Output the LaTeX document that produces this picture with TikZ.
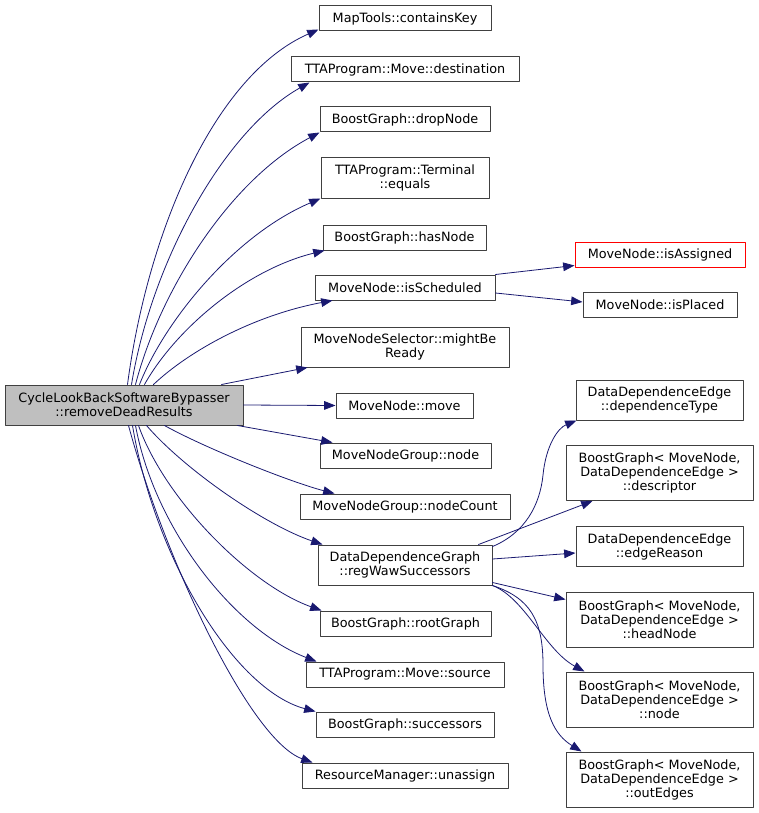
\documentclass[tikz,border=0pt]{standalone}
\usepackage{fontspec}
\setmainfont{DejaVu Sans}
\usetikzlibrary{arrows.meta,calc}
\definecolor{edge}{HTML}{191970}
\definecolor{rootfill}{HTML}{BFBFBF}
\begin{document}
\begin{tikzpicture}[line cap=round,line join=round,>={Triangle[length=8.5pt,width=6.5pt]},x=.75pt,y=.75pt,
	fn/.style={draw=black!75,line width=.75pt,fill=white,inner sep=0pt,minimum height=18.75pt,align=center,font=\fontsize{9.6}{10.5}\selectfont},
	two/.style={minimum height=30pt},
	three/.style={minimum height=41.25pt},
	call/.style={->,draw=edge,line width=.6pt}]
		\useasboundingbox (0,0) rectangle (759,-813);
		% caller
		\node[fn,two,fill=rootfill,minimum width=178.5pt] (root) at (124,-405) {CycleLookBackSoftwareBypasser\\::removeDeadResults};
		% first level
		\node[fn,minimum width=129pt] (ckey) at (405,-18.5) {MapTools::containsKey};
		\node[fn,minimum width=171pt] (dest) at (405,-69.5) {TTAProgram::Move::destination};
		\node[fn,minimum width=127.5pt] (drop) at (405,-119.5) {BoostGraph::dropNode};
		\node[fn,two,minimum width=126pt] (equals) at (405,-178) {TTAProgram::Terminal\\::equals};
		\node[fn,minimum width=122.25pt] (has) at (404.5,-237.5) {BoostGraph::hasNode};
		\node[fn,minimum width=135pt] (sched) at (405,-287.5) {MoveNode::isScheduled};
		\node[fn,two,minimum width=156pt] (ready) at (405,-347) {MoveNodeSelector::mightBe\\Ready};
		\node[fn,minimum width=102.75pt] (move) at (404.5,-405.5) {MoveNode::move};
		\node[fn,minimum width=128.25pt] (grpnode) at (405.5,-455.5) {MoveNodeGroup::node};
		\node[fn,minimum width=157.5pt] (count) at (405,-506.5) {MoveNodeGroup::nodeCount};
		\node[fn,two,minimum width=130.5pt] (waw) at (405,-565) {DataDependenceGraph\\::regWawSuccessors};
		\node[fn,minimum width=128.25pt] (rootg) at (405.5,-623.5) {BoostGraph::rootGraph};
		\node[fn,minimum width=148.5pt] (src) at (405,-674.5) {TTAProgram::Move::source};
		\node[fn,minimum width=133.5pt] (succ) at (405,-724.5) {BoostGraph::successors};
		\node[fn,minimum width=154.5pt] (unassign) at (405,-775.5) {ResourceManager::unassign};
		% second level
		\node[fn,draw=red,minimum width=127.5pt] (assigned) at (660,-254.5) {MoveNode::isAssigned};
		\node[fn,minimum width=115.5pt] (placed) at (660,-305) {MoveNode::isPlaced};
		\node[fn,two,minimum width=125.25pt] (deptype) at (659.5,-400) {DataDependenceEdge\\::dependenceType};
		\node[fn,three,minimum width=140.25pt] (desc) at (659.5,-473) {BoostGraph< MoveNode,\\DataDependenceEdge >\\::descriptor};
		\node[fn,two,minimum width=125.25pt] (reason) at (659.5,-546.5) {DataDependenceEdge\\::edgeReason};
		\node[fn,three,minimum width=140.25pt] (head) at (659.5,-619.5) {BoostGraph< MoveNode,\\DataDependenceEdge >\\::headNode};
		\node[fn,three,minimum width=140.25pt] (bgnode) at (659.5,-699.5) {BoostGraph< MoveNode,\\DataDependenceEdge >\\::node};
		\node[fn,three,minimum width=140.25pt] (outedges) at (659.5,-779.5) {BoostGraph< MoveNode,\\DataDependenceEdge >\\::outEdges};
		% calls from the caller
		\draw[call] ($(root.north west)+(123,0)$) .. controls (148,-230) and (215,-75) .. ($(ckey.south west)+(0,2)$);
		\draw[call] ($(root.north west)+(127,0)$) .. controls (152,-260) and (225,-130) .. ($(dest.south west)+(19,0)$);
		\draw[call] ($(root.north west)+(131,0)$) .. controls (160,-290) and (230,-180) .. (drop.south west);
		\draw[call] ($(root.north west)+(135,0)$) .. controls (165,-320) and (235,-235) .. (equals.south west);
		\draw[call] ($(root.north west)+(140,0)$) .. controls (175,-330) and (245,-270) .. ($(has.south west)+(2,0)$);
		\draw[call] ($(root.north west)+(149,0)$) .. controls (190,-350) and (255,-315) .. ($(sched.south west)+(18,0)$);
		\draw[call] ($(root.north west)+(217,0)$) -- ($(ready.south west)+(7,0)$);
		\draw[call] (root.east) -- (move.west);
		\draw[call] ($(root.south east)+(-6,0)$) -- ($(grpnode.north west)+(13,0)$);
		\draw[call] ($(root.south west)+(160,0)$) .. controls (205,-448) and (290,-482) .. ($(count.north west)+(35,0)$);
		\draw[call] ($(root.south west)+(142,0)$) .. controls (185,-470) and (265,-525) .. ($(waw.north west)+(5,0)$);
		\draw[call] ($(root.south west)+(134,0)$) .. controls (165,-500) and (250,-585) .. ($(rootg.north west)+(2,0)$);
		\draw[call] ($(root.south west)+(131,0)$) .. controls (155,-530) and (235,-630) .. ($(src.north west)+(11,0)$);
		\draw[call] ($(root.south west)+(128,0)$) .. controls (155,-560) and (235,-690) .. (succ.north west);
		\draw[call] ($(root.south west)+(124,0)$) .. controls (165,-560) and (250,-740) .. ($(unassign.north west)+(11,0)$);
		% calls one level down
		\draw[call] (sched.north east) -- ($(assigned.south west)+(0,2)$);
		\draw[call] ($(sched.east)+(0,-5.5)$) -- ($(placed.west)+(0,3)$);
		\draw[call] ($(waw.north east)+(0,-2)$) .. controls (525,-533) and (540,-505) .. (543,-475) .. controls (546,-445) and (558,-428) .. ($(deptype.south west)+(1,0)$);
		\draw[call] ($(waw.north east)+(-14,0)$) -- ($(desc.south west)+(27,0)$);
		\draw[call] ($(waw.east)+(0,6)$) -- ($(reason.west)+(0,-6.5)$);
		\draw[call] ($(waw.south east)+(0,3)$) -- ($(head.north west)+(0,-8)$);
		\draw[call] (waw.south east) .. controls (525,-598) and (545,-650) .. ($(bgnode.north west)+(19,0)$);
		\draw[call] (waw.south east) .. controls (530,-598) and (543,-620) .. (543,-665) .. controls (543,-715) and (555,-735) .. ($(outedges.north west)+(16,0)$);
\end{tikzpicture}
\end{document}
